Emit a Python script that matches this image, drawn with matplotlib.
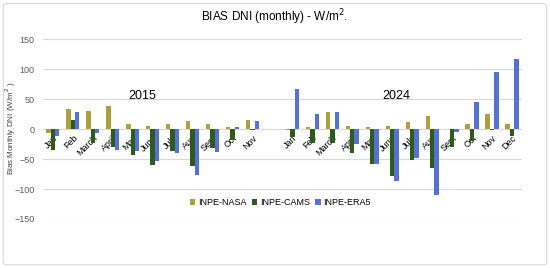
import matplotlib
matplotlib.use('Agg')
import matplotlib.pyplot as plt
import numpy as np
from matplotlib.patches import FancyBboxPatch

# 2015 runs Jan..Nov (Dec empty), then 2024 Jan..Dec
MONTHS = ['Jan', 'Feb', 'March', 'April', 'May', 'June', 'July', 'Aug', 'Sept', 'Oct', 'Nov', '',
          'Jan', 'Feb', 'March', 'April', 'May', 'June', 'July', 'Aug', 'Sept', 'Oct', 'Nov', 'Dec']

NASA = [-7, 34, 30, 38, 8, 6, 9, 14, 9, 3, 15, np.nan,
        -1, 3, 29, 5, 3, 6, 12, 22, 1, 8, 26, 8]
CAMS = [-34, 16, -23, -29, -43, -60, -37, -61, -31, -18, -2, np.nan,
        -13, -23, -23, -40, -58, -78, -51, -65, -30, -19, -1, -11]
ERA5 = [-12, 28, -7, -35, -37, -54, -39, -77, -38, 3, 13, np.nan,
        67, 26, 29, -25, -58, -86, -48, -110, -5, 46, 96, 118]

YEARS = ['2015', '2024']

nasa_color = '#AE9F3E'
cams_color = '#2E5A1E'
era5_color = '#5472D6'

plt.rcParams['font.family'] = ['Liberation Sans', 'DejaVu Sans']

fig = plt.figure(figsize=(5.5, 2.68), dpi=100)
ax = fig.add_axes([0.078, 0.183, 0.871, 0.67])

x = np.arange(len(MONTHS))
w = 0.22
ax.bar(x - w, NASA, w, color=nasa_color, label='INPE-NASA', zorder=3)
ax.bar(x, CAMS, w, color=cams_color, label='INPE-CAMS', zorder=3)
ax.bar(x + w, ERA5, w, color=era5_color, label='INPE-ERA5', zorder=3)

ax.set_xlim(-0.5, len(MONTHS) - 0.5)
ax.set_ylim(-150, 150)
ax.set_yticks([-150, -100, -50, 0, 50, 100, 150])
ax.yaxis.grid(True, color='#D9D9D9', linewidth=0.8, zorder=0)
ax.set_axisbelow(True)

for s in ['top', 'right', 'left']:
    ax.spines[s].set_visible(False)
# month labels sit just under the zero line, like Excel
ax.spines['bottom'].set_position(('data', 0))
ax.spines['bottom'].set_visible(False)

ax.set_xticks(x)
ax.set_xticklabels(MONTHS, rotation=45, ha='right', rotation_mode='anchor', fontsize=6.5)
ax.tick_params(axis='x', length=0, pad=3)
ax.tick_params(axis='y', length=0, labelsize=6.5, labelcolor='#595959', pad=6)

ax.text(4.5, 55, YEARS[0], ha='center', va='center', fontsize=9)
ax.text(17.2, 55, YEARS[1], ha='center', va='center', fontsize=9)

fig.text(0.02, 0.52, 'Bias Monthly DNI (W/m$^2$ )', rotation=90, ha='center', va='center',
         fontsize=5.8, color='#404040')

fig.text(0.5, 0.935, 'BIAS DNI (monthly) - W/m$^2$.', ha='center', va='center', fontsize=8.5)

fig.legend(loc='center', bbox_to_anchor=(0.51, 0.243), ncol=3, frameon=False, fontsize=6.5,
           handlelength=0.6, handleheight=0.6, handletextpad=0.3, columnspacing=0.6)

# light chart-area border
fig.patches.append(FancyBboxPatch((0.006, 0.012), 0.988, 0.975, boxstyle='round,pad=0,rounding_size=0.008',
                                  transform=fig.transFigure, fill=False, edgecolor='#D9D9D9', linewidth=0.8))

fig.savefig('out.png', dpi=100, facecolor='white')
